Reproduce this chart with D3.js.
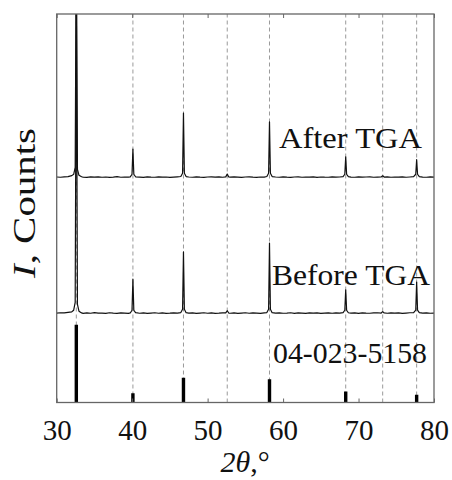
<!DOCTYPE html>
<html>
<head>
<meta charset="utf-8">
<script src="https://cdn.jsdelivr.net/npm/d3@7"></script>
<style>
  body { margin: 0; background: #fff; }
  svg { display: block; }
</style>
</head>
<body>
<div id="chart"></div>
<script>
// x axis ticks (2theta, degrees)
const xTicks = [30, 40, 50, 60, 70, 80];

// reference lines (dashed) and reference card sticks
const refLines = [32.6, 40.1, 46.8, 52.6, 58.2, 68.3, 73.2, 77.7];
const refPeaks = [32.6, 40.1, 46.8, 58.2, 68.3, 77.7];
const refIntensity = [100, 12, 32, 30, 14, 10];
const refCard = '04-023-5158';

// vertical offsets of the stacked patterns (a.u.)
const beforeOffset = 91;
const afterOffset = 231;

// measured patterns [2theta, intensity a.u.]
const beforeTGA = [
  [30.0, 1.0], [30.5, 1.4], [31.0, 1.2], [31.5, 1.8], [32.0, 2.4], [32.25, 4], [32.45, 12],
  [32.6, 330], [32.75, 10], [32.95, 3], [33.3, 1.2], [33.5, 0.8], [34.0, 1.3], [34.5, 0.9],
  [35.0, 1.5], [35.5, 1.0], [36.0, 1.1], [36.5, 0.7], [37.0, 1.4], [37.5, 1.0], [38.0, 0.8],
  [38.5, 1.3], [39.0, 1.0], [39.5, 0.7], [39.75, 1.2], [39.98, 4], [40.1, 36], [40.22, 4],
  [40.45, 1.5], [41.0, 0.9], [41.5, 1.3], [42.0, 0.8], [42.5, 1.1], [43.0, 1.4], [43.5, 0.9],
  [44.0, 1.2], [44.5, 0.8], [45.0, 1.0], [45.5, 1.3], [46.0, 1.1], [46.45, 1.6], [46.68, 5],
  [46.8, 64], [46.92, 5], [47.15, 1.5], [47.5, 1.0], [48.0, 1.3], [48.5, 0.8], [49.0, 1.1],
  [49.5, 1.4], [50.0, 0.9], [50.5, 1.2], [51.0, 0.8], [51.5, 1.0], [52.0, 1.3], [52.4, 1.2],
  [52.6, 3.5], [52.8, 1.1], [53.0, 0.9], [53.5, 1.2], [54.0, 0.8], [54.5, 1.1], [55.0, 1.4],
  [55.5, 0.9], [56.0, 1.2], [56.5, 1.0], [57.0, 0.8], [57.5, 1.3], [57.85, 1.6], [58.08, 5],
  [58.2, 73], [58.32, 5], [58.55, 1.5], [59.0, 1.0], [59.5, 1.3], [60.0, 0.9], [60.5, 1.1],
  [61.0, 1.4], [61.5, 0.8], [62.0, 1.2], [62.5, 1.0], [63.0, 0.7], [63.5, 1.3], [64.0, 1.0],
  [64.5, 1.2], [65.0, 0.8], [65.5, 1.1], [66.0, 1.3], [66.5, 0.9], [67.0, 1.2], [67.5, 1.0],
  [67.95, 1.5], [68.18, 4], [68.3, 25], [68.42, 4], [68.65, 1.4], [69.0, 1.0], [69.5, 1.2],
  [70.0, 0.8], [70.5, 1.3], [71.0, 1.0], [71.5, 0.9], [72.0, 1.2], [72.5, 1.4], [73.0, 1.1],
  [73.2, 2.6], [73.4, 1.2], [73.8, 0.9], [74.3, 1.3], [74.8, 1.0], [75.3, 1.2], [75.8, 0.8],
  [76.3, 1.1], [76.8, 1.4], [77.3, 1.5], [77.58, 4], [77.7, 33], [77.82, 4], [78.05, 1.6],
  [78.5, 1.0], [79.0, 1.2], [79.5, 0.9], [80.0, 1.0]
];

const afterTGA = [
  [30.0, 1.2], [30.5, 0.9], [31.0, 1.4], [31.5, 1.6], [32.0, 2.6], [32.25, 4], [32.45, 11],
  [32.6, 260], [32.75, 9], [32.95, 3], [33.3, 1.4], [33.5, 1.0], [34.0, 0.8], [34.5, 1.3],
  [35.0, 1.0], [35.5, 1.4], [36.0, 0.9], [36.5, 1.2], [37.0, 0.8], [37.5, 1.1], [38.0, 1.5],
  [38.5, 0.9], [39.0, 1.2], [39.5, 1.0], [39.75, 1.3], [39.98, 4], [40.1, 30], [40.22, 4],
  [40.45, 1.4], [41.0, 1.1], [41.5, 0.8], [42.0, 1.3], [42.5, 1.0], [43.0, 0.9], [43.5, 1.4],
  [44.0, 1.0], [44.5, 1.2], [45.0, 0.8], [45.5, 1.1], [46.0, 1.4], [46.45, 1.7], [46.68, 5],
  [46.8, 67], [46.92, 5], [47.15, 1.6], [47.5, 1.2], [48.0, 0.9], [48.5, 1.3], [49.0, 1.0],
  [49.5, 0.8], [50.0, 1.2], [50.5, 1.4], [51.0, 1.0], [51.5, 1.3], [52.0, 0.9], [52.4, 1.3],
  [52.6, 4.2], [52.8, 1.2], [53.0, 1.0], [53.5, 1.3], [54.0, 1.1], [54.5, 0.8], [55.0, 1.2],
  [55.5, 1.4], [56.0, 1.0], [56.5, 0.8], [57.0, 1.2], [57.5, 1.0], [57.85, 1.7], [58.08, 5],
  [58.2, 58], [58.32, 5], [58.55, 1.6], [59.0, 1.2], [59.5, 0.9], [60.0, 1.3], [60.5, 1.0],
  [61.0, 0.8], [61.5, 1.2], [62.0, 1.4], [62.5, 0.9], [63.0, 1.1], [63.5, 1.0], [64.0, 1.3],
  [64.5, 0.8], [65.0, 1.2], [65.5, 1.0], [66.0, 0.9], [66.5, 1.3], [67.0, 1.0], [67.5, 1.2],
  [67.95, 1.6], [68.18, 4], [68.3, 22], [68.42, 4], [68.65, 1.5], [69.0, 1.1], [69.5, 0.9],
  [70.0, 1.3], [70.5, 1.0], [71.0, 1.2], [71.5, 1.4], [72.0, 0.9], [72.5, 1.1], [73.0, 1.2],
  [73.2, 2.4], [73.4, 1.1], [73.8, 1.3], [74.3, 0.9], [74.8, 1.2], [75.3, 1.0], [75.8, 1.4],
  [76.3, 0.9], [76.8, 1.2], [77.3, 1.5], [77.58, 4], [77.7, 19], [77.82, 4], [78.05, 1.6],
  [78.5, 1.1], [79.0, 0.9], [79.5, 1.3], [80.0, 1.1]
];

const width = 452, height = 480;
const margin = { top: 14, right: 18, bottom: 77.5, left: 56.7 };
const serif = '"Liberation Serif", "Times New Roman", serif';

const svg = d3.select('#chart').append('svg')
  .attr('width', width)
  .attr('height', height);

const x = d3.scaleLinear()
  .domain([30, 80])
  .range([margin.left, width - margin.right]);

const y = d3.scaleLinear()
  .domain([0, 400])
  .range([height - margin.bottom, margin.top]);

svg.append('clipPath').attr('id', 'plot-clip')
  .append('rect')
  .attr('x', x(30)).attr('y', y(400))
  .attr('width', x(80) - x(30)).attr('height', y(0) - y(400));

const plot = svg.append('g').attr('clip-path', 'url(#plot-clip)');

// dashed guide lines
plot.selectAll('line.guide')
  .data(refLines)
  .enter()
  .append('line')
  .attr('class', 'guide')
  .attr('x1', d => x(d)).attr('x2', d => x(d))
  .attr('y1', y(0)).attr('y2', y(400))
  .attr('stroke', '#9a9a9a')
  .attr('stroke-width', 1)
  .attr('stroke-dasharray', '4,3');

// reference card sticks
plot.selectAll('line.stick')
  .data(refPeaks)
  .enter()
  .append('line')
  .attr('class', 'stick')
  .attr('x1', d => x(d)).attr('x2', d => x(d))
  .attr('y1', y(0))
  .attr('y2', (d, i) => y(refIntensity[i] * 0.8))
  .attr('stroke', '#000')
  .attr('stroke-width', 3.4);

// patterns
const line = d3.line()
  .x(d => x(d[0]))
  .y(d => y(d[1]));

plot.append('path')
  .datum(beforeTGA.map(d => [d[0], d[1] + beforeOffset]))
  .attr('d', line)
  .attr('fill', 'none')
  .attr('stroke', '#111')
  .attr('stroke-width', 1.2)
  .attr('stroke-linejoin', 'round');

plot.append('path')
  .datum(afterTGA.map(d => [d[0], d[1] + afterOffset]))
  .attr('d', line)
  .attr('fill', 'none')
  .attr('stroke', '#111')
  .attr('stroke-width', 1.2)
  .attr('stroke-linejoin', 'round');

// frame
svg.append('rect')
  .attr('x', x(30)).attr('y', y(400))
  .attr('width', x(80) - x(30)).attr('height', y(0) - y(400))
  .attr('fill', 'none')
  .attr('stroke', '#666')
  .attr('stroke-width', 1.3);

// axes: inward ticks top and bottom
svg.append('g')
  .attr('transform', `translate(0,${y(0)})`)
  .call(d3.axisBottom(x).tickValues(xTicks).tickSizeInner(-4).tickSizeOuter(0).tickPadding(8))
  .call(g => g.select('.domain').remove())
  .call(g => g.selectAll('.tick line').attr('stroke', '#666'))
  .call(g => g.selectAll('.tick text')
    .attr('font-family', serif)
    .attr('font-size', 29)
    .attr('fill', '#111')
    .attr('dy', null)
    .attr('y', 37));

svg.append('g')
  .attr('transform', `translate(0,${y(400)})`)
  .call(d3.axisTop(x).tickValues(xTicks).tickSizeInner(-4).tickSizeOuter(0).tickFormat(''))
  .call(g => g.select('.domain').remove())
  .call(g => g.selectAll('.tick line').attr('stroke', '#666'));

// pattern labels
function label(txt, xr, yb, len) {
  svg.append('text')
    .attr('x', xr - len).attr('y', yb)
    .attr('font-family', serif)
    .attr('font-size', 30)
    .attr('fill', '#111')
    .attr('textLength', len)
    .attr('lengthAdjust', 'spacingAndGlyphs')
    .text(txt);
}
label('After TGA', 422, 148, 143);
label('Before TGA', 430, 285, 158);
label(refCard, 427, 363, 154);

// x label
const xl = svg.append('text')
  .attr('x', 245)
  .attr('y', 472)
  .attr('text-anchor', 'middle')
  .attr('font-family', serif)
  .attr('font-size', 30)
  .attr('fill', '#111');
xl.append('tspan').attr('font-style', 'italic').text('2θ');
xl.append('tspan').text(',°');

// y label
const yl = svg.append('text')
  .attr('transform', `translate(35,203) rotate(-90)`)
  .attr('x', -75)
  .attr('font-family', serif)
  .attr('font-size', 31)
  .attr('fill', '#111')
  .attr('textLength', 150)
  .attr('lengthAdjust', 'spacingAndGlyphs');
yl.append('tspan').attr('font-style', 'italic').text('I');
yl.append('tspan').text(', Counts');
</script>
</body>
</html>
